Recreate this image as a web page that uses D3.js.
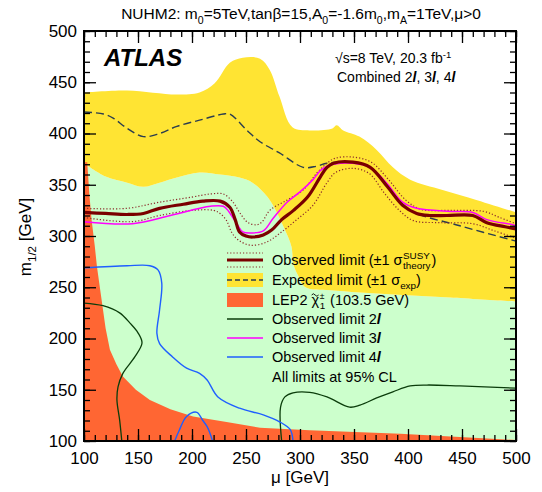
<!DOCTYPE html>
<html>
<head>
<meta charset="utf-8">
<script src="https://cdn.jsdelivr.net/npm/d3@7"></script>
<style>
  body { margin: 0; background: #fff; }
  svg text { font-family: "Liberation Sans", Arial, Helvetica, sans-serif; fill: #000; }
</style>
</head>
<body>
<div id="chart"></div>
<script>
// curves as [mu, m12] pairs
var expUp = [[100,440],[140,442],[186,438],[207,440],[221,449],[235,469],[247,474],[263,473],[272,462],[281,436],[293,406],[309,403],[330,405],[334,408],[340,403],[355,397],[371,384],[386,367],[402,355],[432,345],[464,335],[500,323]];
var expDown = [[100,371],[120,358],[140,352],[155,348],[170,352],[186,357],[207,362],[226,360],[244,357],[256,352],[270,338],[279,322],[286,306],[292,290],[294,272],[298,262],[305,250],[328,247],[386,243],[439,240],[500,236]];
var expLimit = [[100,421],[118,419],[127,415],[140,405],[155,397],[170,400],[186,407],[207,413],[229,419],[235,419],[251,403],[263,392],[281,381],[303,367],[315,368],[325,371],[349,372],[365,367],[386,342],[402,325],[448,310],[500,295]];
var obsLimit = [[100,323],[120,322],[140,321],[155,322],[170,327],[192,331],[210,334],[226,334],[235,328],[240,316],[244,304],[250,300],[256,299],[266,301],[274,306],[283,316],[294,325],[307,338],[319,358],[325,367],[331,371],[349,372],[365,367],[381,348],[395,330],[408,322],[420,320],[436,320],[460,320],[473,313],[490,309],[500,307]];
var obsUp = [[100,327],[140,327],[170,333],[200,338],[217,341],[229,341],[238,333],[244,323],[252,313],[260,311],[265,314],[272,325],[288,335],[303,345],[316,362],[325,371],[333,376],[349,377],[366,372],[382,355],[398,335],[412,326],[440,325],[470,324],[485,318],[500,312]];
var obsDown = [[100,318],[145,314],[170,320],[200,325],[220,325],[226,322],[232,315],[237,303],[243,296],[254,291],[269,294],[283,304],[297,316],[312,330],[325,352],[333,362],[349,366],[364,361],[378,342],[392,325],[405,315],[430,313],[460,312],[480,305],[500,298]];
var obs3l = [[100,314],[145,312],[180,320],[217,329],[229,329],[234,324],[242,311],[247,304],[255,303],[266,305],[275,317],[288,333],[300,343],[312,355],[319,364],[325,368],[331,370],[349,371],[365,367],[380,352],[395,333],[408,327],[440,324],[460,323],[473,316],[497,311],[500,310]];
var obs4l = [[100,269],[140,271],[161,271],[168.5,267],[172,254],[170,228],[167.5,205],[170,195],[182,182],[195,171],[207,166],[214,159.5],[224,143],[244,132],[266,125.5],[281.5,118.5],[291,111],[293.5,100]];
var obs4lB = [[184,100],[188,110],[195,124],[204.5,128],[210,120],[214,114],[219,100]];
var obs2l = [[100,234.6],[117.6,232],[133,225],[142.6,215],[150,205.5],[153.7,195.6],[147,182],[136,166],[131.5,152.7],[130.5,140],[133,120.5],[135,100]];
var obs2lB = [[283,100],[282,133],[286,143],[293.5,147],[309,147.5],[325,143],[346,133],[355.5,135],[371,142],[386,148],[402,153.7],[417.6,154.6],[448,153.7],[500,151.5]];
var lep2 = [[100,100],[100,372],[103,372],[105,340],[107,316],[110,290],[112,270],[116,240],[120,210],[124,189],[130,175],[136,163],[148,150],[161,140],[180,131],[201,124],[232,118.5],[263,113],[309,110.5],[393,107],[500,101],[500,100]];

var xTicks = [100,150,200,250,300,350,400,450,500];
var yTicks = [100,150,200,250,300,350,400,450,500];

var width = 542, height = 492;
var svg = d3.select("#chart").append("svg")
	.attr("width", width)
	.attr("height", height);

var x = d3.scaleLinear().domain([100,500]).range([84,516]);
var y = d3.scaleLinear().domain([100,500]).range([441,31]);

svg.append("clipPath").attr("id","clip")
	.append("rect").attr("x",x(100)).attr("y",y(500)).attr("width",x(500)-x(100)).attr("height",y(100)-y(500));

var plot = svg.append("g").attr("clip-path","url(#clip)");

var smooth = d3.line()
	.x(function(d){ return x(d[0]); })
	.y(function(d){ return y(d[1]); })
	.curve(d3.curveCatmullRom.alpha(0.5));
var straight = d3.line()
	.x(function(d){ return x(d[0]); })
	.y(function(d){ return y(d[1]); });

// green: below the -1 sigma expected edge
plot.append("path")
	.attr("d", smooth(expDown) + "L" + (x(500)+20) + "," + y(expDown[expDown.length-1][1]) + "L" + (x(500)+20) + "," + (y(100)+20) + "L" + (x(100)-20) + "," + (y(100)+20) + "L" + (x(100)-20) + "," + y(expDown[0][1]) + "Z")
	.attr("fill", "#ccffcc");

// yellow band
var rev = expDown.slice().reverse();
plot.append("path")
	.attr("d", smooth(expUp) + "L" + smooth(rev).slice(1) + "Z")
	.attr("fill", "#ffe433");

// LEP2
plot.append("path")
	.attr("d", straight(lep2) + "Z")
	.attr("fill", "#ff6633");

function curve(data, color, w, dash){
	plot.append("path")
		.attr("d", smooth(data))
		.attr("fill","none")
		.attr("stroke", color)
		.attr("stroke-width", w)
		.attr("stroke-dasharray", dash || null);
}
curve(obs2l, "#0b3d0b", 1.3);
curve(obs2lB, "#0b3d0b", 1.3);
curve(obs4l, "#1f5fff", 1.4);
curve(obs4lB, "#1f5fff", 1.4);
curve(expLimit, "#2b3d4f", 1.4, "8,4");
curve(obsUp, "#8b2a2a", 1.2, "1.2,2");
curve(obsDown, "#8b2a2a", 1.2, "1.2,2");
curve(obs3l, "#ff00ff", 1.5);
curve(obsLimit, "#7a0000", 3.2);

// axes
function styleAxis(g){
	g.select(".domain").remove();
	g.selectAll(".tick line").attr("stroke","#000").attr("stroke-width",1.3);
	g.selectAll("text").style("font-size","17px").attr("fill","#000").style("font-family",'"Liberation Sans", Arial, sans-serif');
}
svg.append("g").attr("transform","translate(0,"+y(100)+")")
	.call(d3.axisBottom(x).tickValues(xTicks).tickSize(-12).tickPadding(11).tickFormat(d3.format("d")))
	.call(styleAxis);
svg.append("g").attr("transform","translate(0,"+y(100)+")")
	.call(d3.axisBottom(x).tickValues(d3.range(100,501,10)).tickSize(-6).tickFormat(""))
	.call(styleAxis);
svg.append("g").attr("transform","translate(0,"+y(500)+")")
	.call(d3.axisTop(x).tickValues(xTicks).tickSize(-12).tickFormat(""))
	.call(styleAxis);
svg.append("g").attr("transform","translate(0,"+y(500)+")")
	.call(d3.axisTop(x).tickValues(d3.range(100,501,10)).tickSize(-6).tickFormat(""))
	.call(styleAxis);
svg.append("g").attr("transform","translate("+x(100)+",0)")
	.call(d3.axisLeft(y).tickValues(yTicks).tickSize(-12).tickPadding(7).tickFormat(d3.format("d")))
	.call(styleAxis);
svg.append("g").attr("transform","translate("+x(100)+",0)")
	.call(d3.axisLeft(y).tickValues(d3.range(100,501,10)).tickSize(-6).tickFormat(""))
	.call(styleAxis);
svg.append("g").attr("transform","translate("+x(500)+",0)")
	.call(d3.axisRight(y).tickValues(yTicks).tickSize(-12).tickFormat(""))
	.call(styleAxis);
svg.append("g").attr("transform","translate("+x(500)+",0)")
	.call(d3.axisRight(y).tickValues(d3.range(100,501,10)).tickSize(-6).tickFormat(""))
	.call(styleAxis);

svg.append("rect")
	.attr("x",x(100)).attr("y",y(500)).attr("width",x(500)-x(100)).attr("height",y(100)-y(500))
	.attr("fill","none").attr("stroke","#000").attr("stroke-width",2);

// text helper: parts = [text, "sub"/"sup"/"it"]
function rich(parent, px, py, size, parts, anchor){
	var t = parent.append("text").attr("x",px).attr("y",py).style("font-size",size+"px")
		.attr("text-anchor", anchor || "start");
	var shift = 0;
	parts.forEach(function(p){
		var s = t.append("tspan").text(p[0]);
		var want = 0;
		if (p[1] == "sub") { want = size*0.3; s.style("font-size",(size*0.68)+"px"); }
		if (p[1] == "sup") { want = -size*0.38; s.style("font-size",(size*0.68)+"px"); }
		if (p[1] == "it") s.style("font-style","italic").style("font-weight","bold");
		if (want != shift) { s.attr("dy", want - shift); shift = want; }
	});
	return t;
}

rich(svg, 301, 19, 15.5, [["NUHM2: m"],["0","sub"],["=5TeV,tanβ=15,A"],["0","sub"],["=-1.6m"],["0","sub"],[",m"],["A","sub"],["=1TeV,μ>0"]], "middle");

svg.append("text").attr("x",104).attr("y",66).text("ATLAS")
	.style("font-size","24px").style("font-weight","bold").style("font-style","italic");

rich(svg, 335, 63, 14, [["√s=8 TeV, 20.3 fb"],["-1","sup"]]);
rich(svg, 337, 82, 14, [["Combined 2"],["l","it"],[", 3"],["l","it"],[", 4"],["l","it"]]);

// axis titles
svg.append("text").attr("x",300).attr("y",483).attr("text-anchor","middle").style("font-size","17px").text("μ [GeV]");
rich(svg.append("g").attr("transform","translate(31,237) rotate(-90)"), 0, 0, 17, [["m"],["1/2","sub"],[" [GeV]"]], "middle");

// legend
var lg = svg.append("g");
var lx0 = 227, lx1 = 263, tx = 272, fs = 14.5;
var rows = [260, 280, 300, 319, 338, 357, 377];

lg.append("line").attr("x1",lx0).attr("x2",lx1).attr("y1",rows[0]-7).attr("y2",rows[0]-7)
	.attr("stroke","#8b2a2a").attr("stroke-width",1.2).attr("stroke-dasharray","1.2,2");
lg.append("line").attr("x1",lx0).attr("x2",lx1).attr("y1",rows[0]+7).attr("y2",rows[0]+7)
	.attr("stroke","#8b2a2a").attr("stroke-width",1.2).attr("stroke-dasharray","1.2,2");
lg.append("line").attr("x1",lx0).attr("x2",lx1).attr("y1",rows[0]).attr("y2",rows[0])
	.attr("stroke","#7a0000").attr("stroke-width",3.2);
lg.append("rect").attr("x",lx0).attr("y",rows[1]-7).attr("width",lx1-lx0).attr("height",14).attr("fill","#ffe433");
lg.append("line").attr("x1",lx0).attr("x2",lx1).attr("y1",rows[1]).attr("y2",rows[1])
	.attr("stroke","#2b3d4f").attr("stroke-width",1.4).attr("stroke-dasharray","5,3");
lg.append("rect").attr("x",lx0).attr("y",rows[2]-7).attr("width",lx1-lx0).attr("height",14).attr("fill","#ff6633");
[["#0b3d0b",3],["#ff00ff",4],["#1f5fff",5]].forEach(function(c){
	lg.append("line").attr("x1",lx0).attr("x2",lx1).attr("y1",rows[c[1]]).attr("y2",rows[c[1]])
		.attr("stroke",c[0]).attr("stroke-width",1.5);
});

function stacked(txt, sup, sub, after, gap, row, supFs){
	var base = rows[row] + 5;
	var t = lg.append("text").attr("x",tx).attr("y",base).style("font-size",fs+"px").text(txt);
	var w = t.node().getComputedTextLength();
	var a = lg.append("text").attr("x",tx+w+0.5).attr("y",base-6).style("font-size",(supFs || fs*0.68)+"px").text(sup);
	var b = lg.append("text").attr("x",tx+w+0.5).attr("y",base+4).style("font-size",(fs*0.68)+"px").text(sub);
	var w2 = Math.max(a.node().getComputedTextLength(), b.node().getComputedTextLength());
	lg.append("text").attr("x",tx+w+w2+1.5+gap).attr("y",base).style("font-size",fs+"px").text(after);
	return w;
}
stacked("Observed limit (±1 σ", "SUSY", "theory", ")", 0, 0);
rich(lg, tx, rows[1]+5, fs, [["Expected limit (±1 σ"],["exp","sub"],[")"]]);
var wChi = stacked("LEP2 χ", "±", "1", "(103.5 GeV)", 4, 2, 8.5);
// tilde over chi, drawn as a small stroke
var cx = tx + wChi - 4, cy = rows[2] - 6;
lg.append("path")
	.attr("d", "M" + (cx-3.5) + "," + (cy+1) + "q1.75,-2.5 3.5,0 t3.5,0")
	.attr("fill","none").attr("stroke","#000").attr("stroke-width",0.9);
rich(lg, tx, rows[3]+5, fs, [["Observed limit 2"],["l","it"]]);
rich(lg, tx, rows[4]+5, fs, [["Observed limit 3"],["l","it"]]);
rich(lg, tx, rows[5]+5, fs, [["Observed limit 4"],["l","it"]]);
lg.append("text").attr("x",tx).attr("y",rows[6]+5).style("font-size",fs+"px").text("All limits at 95% CL");
</script>
</body>
</html>
